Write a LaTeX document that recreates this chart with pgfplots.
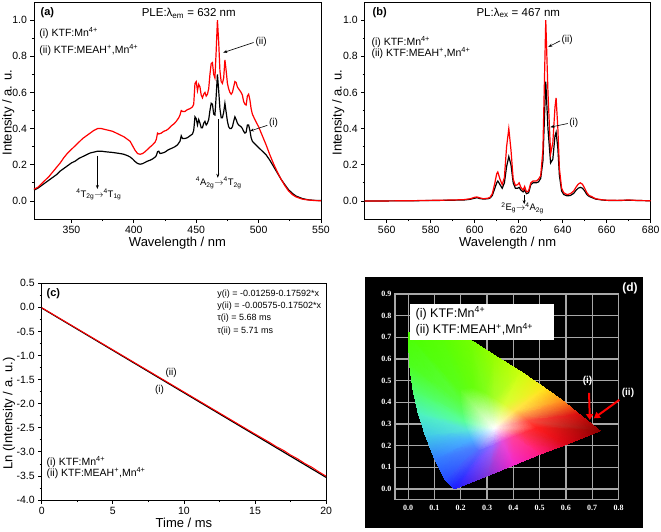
\documentclass[border=0pt]{standalone}
\usepackage{fontspec}
\setmainfont{Liberation Sans}
\newfontfamily\tnr{Liberation Serif}
\usepackage{pgfplots}
\usepackage{pgfplotstable}
\pgfplotsset{compat=1.18}
\usetikzlibrary{arrows.meta}
\definecolor{gridc}{rgb}{0.66,0.66,0.66}

\pgfplotstableread{
x y
320 0.06
323 0.07
326 0.085
329 0.10
332 0.115
335 0.13
338 0.145
341 0.165
344 0.18
347 0.195
350 0.21
353 0.22
356 0.235
359 0.245
362 0.255
365 0.265
368 0.27
371 0.275
374 0.275
377 0.272
380 0.27
383 0.268
386 0.265
389 0.262
392 0.258
395 0.25
397 0.243
399 0.232
401 0.218
403 0.207
405 0.203
407 0.206
409 0.213
411 0.22
413 0.225
415 0.232
417 0.242
418 0.25
419 0.272
420 0.275
421 0.262
423 0.265
425 0.27
427 0.28
429 0.287
431 0.293
433 0.30
435 0.31
437 0.33
438 0.36
439 0.345
441 0.345
443 0.35
445 0.36
447 0.37
448 0.39
449 0.465
450 0.455
451 0.42
452 0.45
453 0.43
454 0.405
455 0.405
456 0.43
457 0.44
458 0.42
459 0.43
460 0.45
461 0.50
462 0.54
463 0.535
464 0.48
465 0.475
466 0.58
467 0.70
468 0.61
469 0.51
470 0.46
471 0.46
472 0.49
473 0.54
474 0.49
475 0.44
476 0.41
477 0.40
478 0.40
479 0.41
480 0.44
481 0.465
482 0.45
483 0.43
484 0.42
485 0.415
486 0.41
487 0.40
488 0.385
489 0.375
490 0.38
491 0.42
492 0.42
493 0.39
494 0.35
495 0.33
497 0.315
500 0.295
503 0.275
506 0.255
509 0.225
512 0.19
515 0.155
518 0.12
521 0.09
524 0.062
527 0.042
530 0.027
535 0.013
540 0.006
545 0.003
550 0.002
}\PLEi

\pgfplotstableread{
x y
320 0.065
323 0.075
326 0.095
329 0.115
332 0.135
335 0.16
338 0.185
341 0.21
344 0.24
347 0.265
350 0.285
353 0.305
356 0.325
359 0.345
362 0.36
365 0.375
368 0.39
371 0.40
374 0.40
377 0.395
380 0.39
383 0.385
386 0.375
389 0.365
392 0.355
395 0.34
397 0.33
399 0.305
401 0.28
403 0.262
405 0.258
407 0.262
409 0.272
411 0.285
413 0.298
415 0.31
417 0.325
418 0.34
419 0.375
420 0.37
422 0.375
424 0.385
426 0.39
428 0.40
430 0.415
432 0.425
434 0.44
436 0.46
437 0.475
438 0.50
439 0.495
441 0.495
443 0.505
445 0.51
447 0.52
448 0.535
449 0.65
450 0.66
451 0.61
452 0.645
453 0.63
454 0.585
455 0.57
456 0.59
457 0.60
458 0.58
459 0.59
460 0.62
461 0.70
462 0.76
463 0.765
464 0.70
465 0.68
466 0.83
467 1.0
468 0.88
469 0.72
470 0.66
471 0.65
472 0.68
473 0.78
474 0.72
475 0.65
476 0.62
477 0.60
478 0.59
479 0.60
480 0.63
481 0.66
482 0.655
483 0.63
484 0.62
485 0.61
486 0.60
487 0.585
488 0.55
489 0.535
490 0.53
491 0.58
492 0.59
493 0.56
494 0.51
495 0.48
497 0.45
500 0.41
503 0.36
506 0.31
509 0.255
512 0.205
515 0.16
518 0.12
521 0.085
524 0.055
527 0.035
530 0.022
535 0.01
540 0.005
545 0.002
550 0.001
}\PLEii

\pgfplotstableread{
x y
550 0
560 0
570 0.001
580 0.002
590 0.004
595 0.005
598 0.009
600 0.015
601 0.018
602 0.014
604 0.01
606 0.012
607 0.016
608 0.03
609 0.065
610 0.10
610.5 0.11
611.5 0.09
612.5 0.07
613.5 0.10
614.5 0.19
615.5 0.245
616.5 0.20
617.5 0.10
618.5 0.07
619.5 0.07
620.2 0.075
621 0.06
622 0.05
622.7 0.06
623.5 0.04
624.5 0.045
625.5 0.09
626.5 0.10
628 0.10
629 0.105
630 0.125
631 0.22
632.3 0.66
633.3 0.40
634.5 0.21
635.5 0.23
636.5 0.36
637 0.38
637.8 0.29
638.5 0.14
639.5 0.055
640.5 0.035
642 0.028
643.5 0.03
645 0.042
646 0.058
647 0.07
648 0.075
649 0.07
650 0.055
651 0.035
652 0.025
653 0.02
655 0.01
658 0.005
660 0.003
665 0.002
670 0.004
675 0.002
680 0.001
}\PLi

\pgfplotstableread{
x y
550 0
560 0
570 0.001
580 0.003
590 0.005
595 0.007
598 0.012
600 0.02
601 0.022
602 0.018
604 0.012
606 0.015
607 0.02
608 0.04
609 0.09
610 0.15
610.5 0.16
611.5 0.12
612.5 0.09
613.5 0.13
614.5 0.30
615.5 0.40
616.5 0.28
617.5 0.12
618.5 0.085
619.5 0.09
620.2 0.10
621 0.075
622 0.06
622.7 0.08
623.5 0.05
624.5 0.055
625.5 0.10
626.5 0.11
628 0.11
629 0.12
630 0.14
631 0.28
632.3 1.0
633.3 0.60
634.5 0.26
635.5 0.32
636.5 0.52
637 0.57
637.8 0.40
638.5 0.18
639.5 0.07
640.5 0.045
642 0.035
643.5 0.04
645 0.055
646 0.075
647 0.092
648 0.10
649 0.092
650 0.07
651 0.045
652 0.03
653 0.025
655 0.012
658 0.006
660 0.004
665 0.003
670 0.005
675 0.002
680 0.001
}\PLii

\pgfplotsset{
  oneprec/.style={/pgf/number format/fixed, /pgf/number format/fixed zerofill, /pgf/number format/precision=1},
  orig/.style={
    scale only axis,
    clip=false,
    axis line style={line width=0.9pt},
    tick align=outside,
    tick pos=left,
    major tick length=3.5pt,
    minor tick length=2pt,
    every tick/.style={black, line width=0.7pt},
    tick label style={font=\fontsize{10.5}{11}\selectfont},
    label style={font=\fontsize{13}{14}\selectfont},
    /pgf/number format/assume math mode=true,
  },
}
\tikzset{ann/.style={-{Stealth[length=4pt,width=3pt]}, line width=0.6pt}}
\newcommand{\fs}[1]{\fontsize{#1}{#1}\selectfont}

\begin{document}
\begin{tikzpicture}
\useasboundingbox (0,0) rectangle (661pt,531pt);

% ---------------- (a)
\begin{axis}[orig, at={(34pt,312pt)}, anchor=south west,
  width=287pt, height=217pt,
  xmin=320, xmax=550, ymin=-0.1, ymax=1.1,
  xtick={350,400,450,500,550}, minor x tick num=1,
  ytick={0,0.2,0.4,0.6,0.8,1.0}, minor y tick num=1,
  yticklabel style={oneprec},
  xlabel={Wavelength / nm}, ylabel={Intensity / a. u.},
  xlabel style={at={(axis description cs:0.5,-0.112)}, anchor=center},
  ylabel style={at={(axis description cs:-0.0895,0.49)}, anchor=center}]
\addplot[black, line width=1.2pt] table[x=x,y=y] {\PLEi};
\addplot[red, line width=1.2pt] table[x=x,y=y] {\PLEii};
\node[anchor=west, font=\fs{11}\bfseries] at (axis cs:322.5,1.039) {(a)};
\node[font=\fs{11.5}] at (axis cs:444,1.039) {PLE:λ\textsubscript{em} = 632 nm};
\node[anchor=west, font=\fs{10.5}] at (axis cs:321.5,0.928) {(i) KTF:Mn\textsuperscript{4+}};
\node[anchor=west, font=\fs{10.5}] at (axis cs:321.5,0.835) {(ii) KTF:MEAH\textsuperscript{+},Mn\textsuperscript{4+}};
\node[font=\fs{10}] at (axis cs:502,0.88) {(ii)};
\draw[ann] (axis cs:496,0.876) -- (axis cs:471.6,0.82);
\node[font=\fs{10}] at (axis cs:512,0.432) {(i)};
\draw[ann] (axis cs:507,0.418) -- (axis cs:493,0.386);
\draw[ann, line width=0.5pt] (axis cs:370.8,0.251) -- (axis cs:370.8,0.066);
\node[font=\fs{9.5}] at (axis cs:372,0.035) {\textsuperscript{4}T\textsubscript{2g}$\rightarrow$\textsuperscript{4}T\textsubscript{1g}};
\draw[ann, line width=0.5pt] (axis cs:467.3,0.451) -- (axis cs:467.3,0.128);
\node[font=\fs{9.5}] at (axis cs:468,0.10) {\textsuperscript{4}A\textsubscript{2g}$\rightarrow$\textsuperscript{4}T\textsubscript{2g}};
\end{axis}

% ---------------- (b)
\begin{axis}[orig, at={(364.7pt,312pt)}, anchor=south west,
  width=286pt, height=217pt,
  xmin=550, xmax=680, ymin=-0.1, ymax=1.1,
  xtick={560,580,600,620,640,660,680}, minor x tick num=1,
  ytick={0,0.2,0.4,0.6,0.8,1.0}, minor y tick num=1,
  yticklabel style={oneprec},
  xlabel={Wavelength / nm}, ylabel={Intensity / a. u.},
  xlabel style={at={(axis description cs:0.5,-0.112)}, anchor=center},
  ylabel style={at={(axis description cs:-0.0923,0.49)}, anchor=center}]
\addplot[black, line width=1.2pt] table[x=x,y=y] {\PLi};
\addplot[red, line width=1.2pt] table[x=x,y=y] {\PLii};
\node[anchor=west, font=\fs{11}\bfseries] at (axis cs:552,1.04) {(b)};
\node[font=\fs{11.5}] at (axis cs:619.8,1.04) {PL:λ\textsubscript{ex} = 467 nm};
\node[anchor=west, font=\fs{10.5}] at (axis cs:551.5,0.88) {(i) KTF:Mn\textsuperscript{4+}};
\node[anchor=west, font=\fs{10.5}] at (axis cs:551.5,0.817) {(ii) KTF:MEAH\textsuperscript{+},Mn\textsuperscript{4+}};
\node[font=\fs{10}] at (axis cs:642,0.89) {(ii)};
\draw[ann] (axis cs:638.8,0.885) -- (axis cs:633.5,0.852);
\node[font=\fs{10}] at (axis cs:645,0.434) {(i)};
\draw[ann] (axis cs:642.3,0.428) -- (axis cs:634.4,0.408);
\draw[ann, line width=0.5pt] (axis cs:622.5,0.03) -- (axis cs:622.5,-0.018);
\node[font=\fs{9.5}] at (axis cs:621.8,-0.04) {\textsuperscript{2}E\textsubscript{g}$\rightarrow$\textsuperscript{4}A\textsubscript{2g}};
\end{axis}

% ---------------- (c)
\begin{axis}[orig, at={(41.7pt,31pt)}, anchor=south west,
  width=284.5pt, height=216.7pt,
  xmin=0, xmax=20, ymin=-4, ymax=0.5,
  xtick={0,5,10,15,20}, minor x tick num=1,
  ytick={-4,-3.5,-3,-2.5,-2,-1.5,-1,-0.5,0,0.5}, minor y tick num=1,
  yticklabel style={oneprec},
  xlabel={Time / ms}, ylabel={Ln (Intensity / a. u.)},
  xlabel style={at={(axis description cs:0.5,-0.1075)}, anchor=center},
  ylabel style={at={(axis description cs:-0.115,0.40)}, anchor=center}]
\addplot[black, line width=1.2pt] coordinates {(0,-0.013) (5,-0.892) (10,-1.772) (15,-2.651) (20,-3.531)};
\addplot[red, line width=1.0pt] coordinates {(0,-0.006) (5,-0.881) (10,-1.756) (15,-2.631) (16,-2.80) (16.5,-2.893) (17,-2.969) (17.5,-3.066) (18,-3.146) (18.5,-3.243) (19,-3.321) (19.5,-3.418) (20,-3.506)};
\node[anchor=west, font=\fs{11}\bfseries] at (axis cs:0.1,0.29) {(c)};
\node[anchor=west, font=\fs{9}] at (axis cs:12.1,0.278) {y(i) = -0.01259-0.17592*x};
\node[anchor=west, font=\fs{9}] at (axis cs:12.1,0.029) {y(ii) = -0.00575-0.17502*x};
\node[anchor=west, font=\fs{9}] at (axis cs:12.1,-0.227) {τ(i) = 5.68 ms};
\node[anchor=west, font=\fs{9}] at (axis cs:12.1,-0.484) {τ(ii) = 5.71 ms};
\node[font=\fs{10}] at (axis cs:9.1,-1.37) {(ii)};
\node[font=\fs{10}] at (axis cs:8.28,-1.716) {(i)};
\node[anchor=west, font=\fs{10.5}] at (axis cs:0.1,-3.205) {(i) KTF:Mn\textsuperscript{4+}};
\node[anchor=west, font=\fs{10.5}] at (axis cs:0.1,-3.446) {(ii) KTF:MEAH\textsuperscript{+},Mn\textsuperscript{4+}};
\end{axis}

% ---------------- (d)
\fill[black] (365pt,3pt) rectangle (643pt,254.3pt);
\node[text=white, font=\fs{12}\bfseries] at (630pt,242.7pt) {(d)};
% grid under the colour region (plain TikZ, drawn before the axis)
\foreach \gx in {408.15,434.44,460.74,487.03,513.32,539.62,565.91,592.2}
  \draw[gridc, line width=1.2pt] (\gx pt,31.2pt) -- (\gx pt,237pt);
\foreach \gy in {42.03,63.69,85.36,107.02,128.68,150.35,172.01,193.67,215.34}
  \draw[gridc, line width=1.2pt] (395pt,\gy pt) -- (618.5pt,\gy pt);
\draw[gridc, line width=1.2pt] (395pt,31.2pt) rectangle (618.5pt,237pt);
\begin{axis}[scale only axis, clip=false, at={(395pt,31.2pt)}, anchor=south west,
  width=223.5pt, height=205.8pt,
  xmin=-0.05, xmax=0.8, ymin=-0.05, ymax=0.9,
  axis line style={draw=none},
  major tick length=0pt, minor tick num=0,
  xtick={0,0.1,0.2,0.3,0.4,0.5,0.6,0.7,0.8},
  ytick={0,0.1,0.2,0.3,0.4,0.5,0.6,0.7,0.8,0.9},
  /pgf/number format/assume math mode=true,
  tick label style={font=\tnr\bfseries\fs{8}, text=white},
  xticklabel style={oneprec, yshift=-2pt},
  yticklabel style={oneprec}]
\addplot[patch, shader=interp, mesh/color input=explicit] table[meta=c] {
x y c
0.330 0.280 rgb=1,1,1
0.268 0.174 rgb=0.35,0.4,1
0.254 0.192 rgb=0.3,0.5,1
0.268 0.174 rgb=0.35,0.4,1
0.175 0.000 rgb=0.1,0.1,1
0.140 0.045 rgb=0.15,0.3,1
0.268 0.174 rgb=0.35,0.4,1
0.140 0.045 rgb=0.15,0.3,1
0.254 0.192 rgb=0.3,0.5,1
0.330 0.280 rgb=1,1,1
0.254 0.192 rgb=0.3,0.5,1
0.238 0.230 rgb=0.3,0.7,1
0.254 0.192 rgb=0.3,0.5,1
0.140 0.045 rgb=0.15,0.3,1
0.100 0.140 rgb=0.2,0.5,1
0.254 0.192 rgb=0.3,0.5,1
0.100 0.140 rgb=0.2,0.5,1
0.238 0.230 rgb=0.3,0.7,1
0.330 0.280 rgb=1,1,1
0.238 0.230 rgb=0.3,0.7,1
0.224 0.274 rgb=0.35,0.9,0.85
0.238 0.230 rgb=0.3,0.7,1
0.100 0.140 rgb=0.2,0.5,1
0.065 0.250 rgb=0.25,0.8,0.9
0.238 0.230 rgb=0.3,0.7,1
0.065 0.250 rgb=0.25,0.8,0.9
0.224 0.274 rgb=0.35,0.9,0.85
0.330 0.280 rgb=1,1,1
0.224 0.274 rgb=0.35,0.9,0.85
0.213 0.314 rgb=0.35,1,0.6
0.224 0.274 rgb=0.35,0.9,0.85
0.065 0.250 rgb=0.25,0.8,0.9
0.038 0.350 rgb=0.3,0.95,0.75
0.224 0.274 rgb=0.35,0.9,0.85
0.038 0.350 rgb=0.3,0.95,0.75
0.213 0.314 rgb=0.35,1,0.6
0.330 0.280 rgb=1,1,1
0.213 0.314 rgb=0.35,1,0.6
0.205 0.358 rgb=0.35,1,0.4
0.213 0.314 rgb=0.35,1,0.6
0.038 0.350 rgb=0.3,0.95,0.75
0.018 0.460 rgb=0.3,1,0.4
0.213 0.314 rgb=0.35,1,0.6
0.018 0.460 rgb=0.3,1,0.4
0.205 0.358 rgb=0.35,1,0.4
0.330 0.280 rgb=1,1,1
0.205 0.358 rgb=0.35,1,0.4
0.200 0.406 rgb=0.35,1,0.25
0.205 0.358 rgb=0.35,1,0.4
0.018 0.460 rgb=0.3,1,0.4
0.005 0.580 rgb=0.3,1,0.1
0.205 0.358 rgb=0.35,1,0.4
0.005 0.580 rgb=0.3,1,0.1
0.200 0.406 rgb=0.35,1,0.25
0.330 0.280 rgb=1,1,1
0.200 0.406 rgb=0.35,1,0.25
0.198 0.462 rgb=0.35,1,0.1
0.200 0.406 rgb=0.35,1,0.25
0.005 0.580 rgb=0.3,1,0.1
0.000 0.720 rgb=0.3,1,0
0.200 0.406 rgb=0.35,1,0.25
0.000 0.720 rgb=0.3,1,0
0.198 0.462 rgb=0.35,1,0.1
0.330 0.280 rgb=1,1,1
0.198 0.462 rgb=0.35,1,0.1
0.246 0.470 rgb=0.4,1,0.05
0.198 0.462 rgb=0.35,1,0.1
0.000 0.720 rgb=0.3,1,0
0.120 0.740 rgb=0.35,1,0
0.198 0.462 rgb=0.35,1,0.1
0.120 0.740 rgb=0.35,1,0
0.246 0.470 rgb=0.4,1,0.05
0.330 0.280 rgb=1,1,1
0.246 0.470 rgb=0.4,1,0.05
0.294 0.448 rgb=0.5,1,0.1
0.246 0.470 rgb=0.4,1,0.05
0.120 0.740 rgb=0.35,1,0
0.240 0.685 rgb=0.45,1,0
0.246 0.470 rgb=0.4,1,0.05
0.240 0.685 rgb=0.45,1,0
0.294 0.448 rgb=0.5,1,0.1
0.330 0.280 rgb=1,1,1
0.294 0.448 rgb=0.5,1,0.1
0.330 0.420 rgb=0.65,1,0.15
0.294 0.448 rgb=0.5,1,0.1
0.240 0.685 rgb=0.45,1,0
0.330 0.615 rgb=0.6,1,0
0.294 0.448 rgb=0.5,1,0.1
0.330 0.615 rgb=0.6,1,0
0.330 0.420 rgb=0.65,1,0.15
0.330 0.280 rgb=1,1,1
0.330 0.420 rgb=0.65,1,0.15
0.370 0.390 rgb=0.85,1,0.2
0.330 0.420 rgb=0.65,1,0.15
0.330 0.615 rgb=0.6,1,0
0.430 0.540 rgb=0.8,1,0.05
0.330 0.420 rgb=0.65,1,0.15
0.430 0.540 rgb=0.8,1,0.05
0.370 0.390 rgb=0.85,1,0.2
0.330 0.280 rgb=1,1,1
0.370 0.390 rgb=0.85,1,0.2
0.406 0.360 rgb=1,0.9,0.3
0.370 0.390 rgb=0.85,1,0.2
0.430 0.540 rgb=0.8,1,0.05
0.520 0.465 rgb=1,0.9,0.1
0.370 0.390 rgb=0.85,1,0.2
0.520 0.465 rgb=1,0.9,0.1
0.406 0.360 rgb=1,0.9,0.3
0.330 0.280 rgb=1,1,1
0.406 0.360 rgb=1,0.9,0.3
0.434 0.336 rgb=1,0.6,0.3
0.406 0.360 rgb=1,0.9,0.3
0.520 0.465 rgb=1,0.9,0.1
0.590 0.405 rgb=1,0.55,0.1
0.406 0.360 rgb=1,0.9,0.3
0.590 0.405 rgb=1,0.55,0.1
0.434 0.336 rgb=1,0.6,0.3
0.330 0.280 rgb=1,1,1
0.434 0.336 rgb=1,0.6,0.3
0.458 0.312 rgb=1,0.3,0.25
0.434 0.336 rgb=1,0.6,0.3
0.590 0.405 rgb=1,0.55,0.1
0.650 0.345 rgb=0.85,0.05,0.05
0.434 0.336 rgb=1,0.6,0.3
0.650 0.345 rgb=0.85,0.05,0.05
0.458 0.312 rgb=1,0.3,0.25
0.330 0.280 rgb=1,1,1
0.458 0.312 rgb=1,0.3,0.25
0.490 0.281 rgb=1,0.12,0.12
0.458 0.312 rgb=1,0.3,0.25
0.650 0.345 rgb=0.85,0.05,0.05
0.730 0.268 rgb=0.55,0,0
0.458 0.312 rgb=1,0.3,0.25
0.730 0.268 rgb=0.55,0,0
0.490 0.281 rgb=1,0.12,0.12
0.330 0.280 rgb=1,1,1
0.490 0.281 rgb=1,0.12,0.12
0.438 0.256 rgb=1,0.2,0.3
0.490 0.281 rgb=1,0.12,0.12
0.730 0.268 rgb=0.55,0,0
0.600 0.205 rgb=0.85,0.02,0.08
0.490 0.281 rgb=1,0.12,0.12
0.600 0.205 rgb=0.85,0.02,0.08
0.438 0.256 rgb=1,0.2,0.3
0.330 0.280 rgb=1,1,1
0.438 0.256 rgb=1,0.2,0.3
0.398 0.238 rgb=1,0.25,0.6
0.438 0.256 rgb=1,0.2,0.3
0.600 0.205 rgb=0.85,0.02,0.08
0.500 0.160 rgb=1,0.1,0.5
0.438 0.256 rgb=1,0.2,0.3
0.500 0.160 rgb=1,0.1,0.5
0.398 0.238 rgb=1,0.25,0.6
0.330 0.280 rgb=1,1,1
0.398 0.238 rgb=1,0.25,0.6
0.358 0.218 rgb=0.9,0.3,0.85
0.398 0.238 rgb=1,0.25,0.6
0.500 0.160 rgb=1,0.1,0.5
0.400 0.110 rgb=0.95,0.15,0.8
0.398 0.238 rgb=1,0.25,0.6
0.400 0.110 rgb=0.95,0.15,0.8
0.358 0.218 rgb=0.9,0.3,0.85
0.330 0.280 rgb=1,1,1
0.358 0.218 rgb=0.9,0.3,0.85
0.318 0.198 rgb=0.6,0.4,1
0.358 0.218 rgb=0.9,0.3,0.85
0.400 0.110 rgb=0.95,0.15,0.8
0.300 0.060 rgb=0.5,0.2,0.85
0.358 0.218 rgb=0.9,0.3,0.85
0.300 0.060 rgb=0.5,0.2,0.85
0.318 0.198 rgb=0.6,0.4,1
0.330 0.280 rgb=1,1,1
0.318 0.198 rgb=0.6,0.4,1
0.268 0.174 rgb=0.35,0.4,1
0.318 0.198 rgb=0.6,0.4,1
0.300 0.060 rgb=0.5,0.2,0.85
0.175 0.000 rgb=0.1,0.1,1
0.318 0.198 rgb=0.6,0.4,1
0.175 0.000 rgb=0.1,0.1,1
0.268 0.174 rgb=0.35,0.4,1
};
\fill[white] (axis cs:0.007,0.688) rectangle (axis cs:0.555,0.854);
\node[anchor=west, font=\fs{12.5}] at (axis cs:0.015,0.811) {(i) KTF:Mn\textsuperscript{4+}};
\node[anchor=west, font=\fs{12.5}] at (axis cs:0.015,0.734) {(ii) KTF:MEAH\textsuperscript{+},Mn\textsuperscript{4+}};
\draw[red, line width=2pt, -{Triangle[length=6pt,width=7pt]}] (axis cs:0.688,0.444) -- (axis cs:0.691,0.318);
\draw[red, line width=2pt, -{Triangle[length=6pt,width=7pt]}] (axis cs:0.803,0.411) -- (axis cs:0.706,0.326);
\node[text=white, font=\fs{10}\bfseries] at (axis cs:0.682,0.498) {(i)};
\node[text=white, font=\fs{10}\bfseries] at (axis cs:0.836,0.442) {(ii)};
\end{axis}
\end{tikzpicture}
\end{document}
